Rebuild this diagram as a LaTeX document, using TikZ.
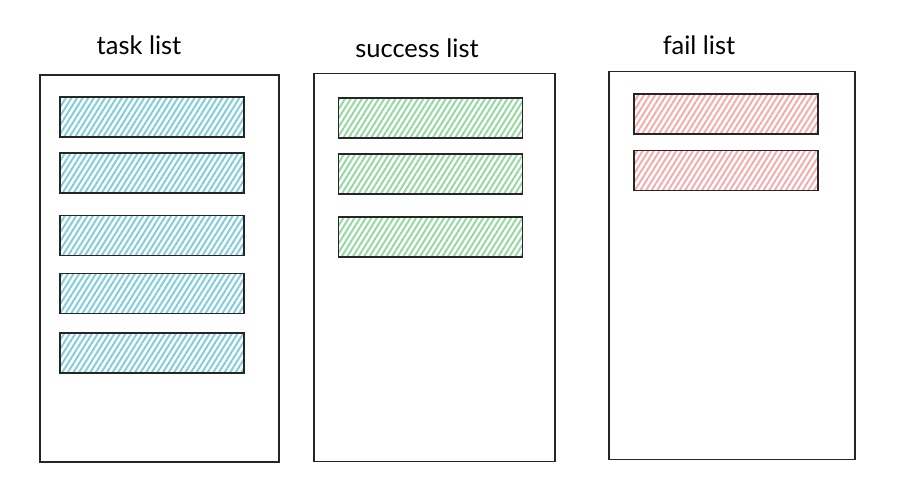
\documentclass[tikz,border=0pt]{standalone}
\usepackage{fontspec}
\setmainfont{Lato}
\usetikzlibrary{patterns.meta}
\definecolor{taskblue}{HTML}{7FCCDB}
\definecolor{okgreen}{HTML}{94D89E}
\definecolor{failred}{HTML}{F6AAAA}
\tikzstyle{listbox} = [rectangle, draw=black!85, line width=0.9pt, fill=white, minimum height=7.76cm]
\tikzstyle{item} = [rectangle, draw=black!85, line width=1pt, minimum width=3.68cm, minimum height=0.8cm]
\tikzstyle{hatch} = [pattern={Lines[angle=58,distance=2.7pt,line width=1.1pt]}]
\tikzstyle{title} = [font=\fontsize{14.5}{16}\selectfont, text=black]

\begin{document}
\begin{tikzpicture}
    \useasboundingbox (0,0) rectangle (18.34,-9.62);
    % the three lists
    \node (task) [listbox, minimum width=4.78cm, minimum height=7.74cm] at (3.19,-5.37) {};
    \node (success) [listbox, minimum width=4.82cm] at (8.69,-5.35) {};
    \node (fail) [listbox, minimum width=4.92cm] at (14.64,-5.31) {};
    \node (tasktitle) [title] at (2.78,-0.90) {task list};
    \node (successtitle) [title] at (8.34,-0.96) {success list};
    \node (failtitle) [title] at (13.98,-0.90) {fail list};

    % items
    \foreach \y [count=\i] in {-2.34,-3.46,-4.71,-5.87,-7.06}
        \node (task\i) [item, hatch, pattern color=taskblue] at (3.04,\y) {};
    \foreach \y [count=\i] in {-2.36,-3.48,-4.74}
        \node (success\i) [item, hatch, pattern color=okgreen] at (8.61,\y) {};
    \foreach \y [count=\i] in {-2.28,-3.41}
        \node (fail\i) [item, hatch, pattern color=failred] at (14.52,\y) {};
\end{tikzpicture}
\end{document}
